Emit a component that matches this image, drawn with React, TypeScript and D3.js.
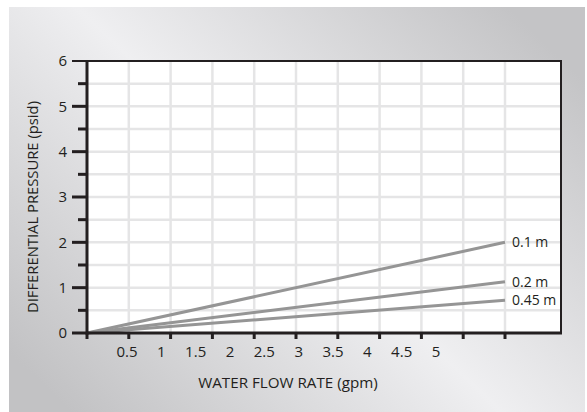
import React from 'react';
import * as d3 from 'd3';

// readings
const flowRate = [0, 5];
const seriesNames = ['0.1 m', '0.2 m', '0.45 m'];
const pressure01 = [0, 2.0];
const pressure02 = [0, 1.13];
const pressure045 = [0, 0.72];
const seriesValues = [pressure01, pressure02, pressure045];

const xTickValues = [0, 0.5, 1, 1.5, 2, 2.5, 3, 3.5, 4, 4.5, 5];
const xTickLabels = ['0.5', '1', '1.5', '2', '2.5', '3', '3.5', '4', '4.5', '5'];
const yMajorTicks = [0, 1, 2, 3, 4, 5, 6];
const yMinorTicks = [0.5, 1.5, 2.5, 3.5, 4.5, 5.5];

const W = 587;
const H = 412;
const plot = { left: 87, top: 61, right: 561, bottom: 333 };
const ink = '#231f20';
const font = "'Open Sans', sans-serif";

function App() {
  const x = d3.scaleLinear().domain([0, 5]).range([plot.left, 505]);
  const y = d3.scaleLinear().domain([0, 6]).range([plot.bottom, plot.top]);
  // the printed x labels sit on their own, tighter spacing
  const labelX = d3.scaleLinear().domain([0, xTickLabels.length - 1]).range([127, 436]);

  const line = d3
    .line<number>()
    .x((_, i) => x(flowRate[i]))
    .y((d) => y(d));

  const gridY = [...yMinorTicks, ...yMajorTicks.slice(1, -1)];

  return (
    <svg width={W} height={H} style={{ position: 'absolute', left: 0, top: 0 }}>
      <defs>
        <linearGradient id="bg" gradientUnits="userSpaceOnUse" x1={90} y1={430} x2={500} y2={0}>
          <stop offset="0" stopColor="#c2c2c4" />
          <stop offset="0.5" stopColor="#efeff1" />
          <stop offset="1" stopColor="#c4c4c6" />
        </linearGradient>
      </defs>
      <rect x={0} y={0} width={W} height={H} fill="#fff" />
      <rect x={9} y={7} width={576} height={H - 7} fill="url(#bg)" />

      <rect
        x={plot.left}
        y={plot.top}
        width={plot.right - plot.left}
        height={plot.bottom - plot.top}
        fill="#fff"
      />

      {/* grid */}
      {xTickValues.slice(1).map((v) => (
        <line key={'gx' + v} x1={x(v)} x2={x(v)} y1={plot.top} y2={plot.bottom} stroke="#e5e5e6" strokeWidth={2.5} />
      ))}
      {gridY.map((v) => (
        <line key={'gy' + v} x1={plot.left} x2={plot.right} y1={y(v)} y2={y(v)} stroke="#e5e5e6" strokeWidth={2.5} />
      ))}

      {/* series */}
      {seriesValues.map((vals, i) => (
        <g key={seriesNames[i]}>
          <path d={line(vals) || ''} fill="none" stroke="#959595" strokeWidth={3} />
          <text
            x={x(flowRate[flowRate.length - 1]) + 7}
            y={y(vals[vals.length - 1])}
            dy="0.35em"
            fontFamily={font}
            fontSize={14}
            fill={ink}
          >
            {seriesNames[i]}
          </text>
        </g>
      ))}

      {/* frame */}
      <line x1={plot.left} x2={plot.right} y1={plot.top} y2={plot.top} stroke={ink} strokeWidth={2} />
      <line x1={plot.right} x2={plot.right} y1={plot.top - 1} y2={plot.bottom} stroke={ink} strokeWidth={2} />
      <line x1={plot.left} x2={plot.left} y1={plot.top - 1} y2={plot.bottom + 1.5} stroke={ink} strokeWidth={3} />
      <line x1={plot.left} x2={plot.right + 1} y1={plot.bottom} y2={plot.bottom} stroke={ink} strokeWidth={3} />

      {/* y axis */}
      {yMajorTicks.map((v) => (
        <g key={'ym' + v}>
          <line x1={plot.left - 15} x2={plot.left} y1={y(v)} y2={y(v)} stroke={ink} strokeWidth={v === 6 ? 2 : 3} />
          <text x={67} y={y(v)} dy="0.36em" textAnchor="end" fontFamily={font} fontSize={15} fill={ink}>
            {v}
          </text>
        </g>
      ))}
      {yMinorTicks.map((v) => (
        <line key={'yn' + v} x1={plot.left - 9} x2={plot.left} y1={y(v)} y2={y(v)} stroke={ink} strokeWidth={3} />
      ))}

      {/* x axis */}
      {xTickValues.map((v) => (
        <line key={'xt' + v} x1={x(v)} x2={x(v)} y1={plot.bottom} y2={plot.bottom + 6} stroke={ink} strokeWidth={3} />
      ))}
      {xTickLabels.map((t, i) => (
        <text key={'xl' + t} x={labelX(i)} y={356.5} textAnchor="middle" fontFamily={font} fontSize={15} fill={ink}>
          {t}
        </text>
      ))}

      <text x={288} y={388} textAnchor="middle" fontFamily={font} fontSize={15.2} fill={ink}>
        WATER FLOW RATE (gpm)
      </text>
      <text
        transform={`translate(38,207) rotate(-90)`}
        textAnchor="middle"
        fontFamily={font}
        fontSize={15}
        textLength={212}
        lengthAdjust="spacingAndGlyphs"
        fill={ink}
      >
        DIFFERENTIAL PRESSURE (psid)
      </text>
    </svg>
  );
}

export default App;
